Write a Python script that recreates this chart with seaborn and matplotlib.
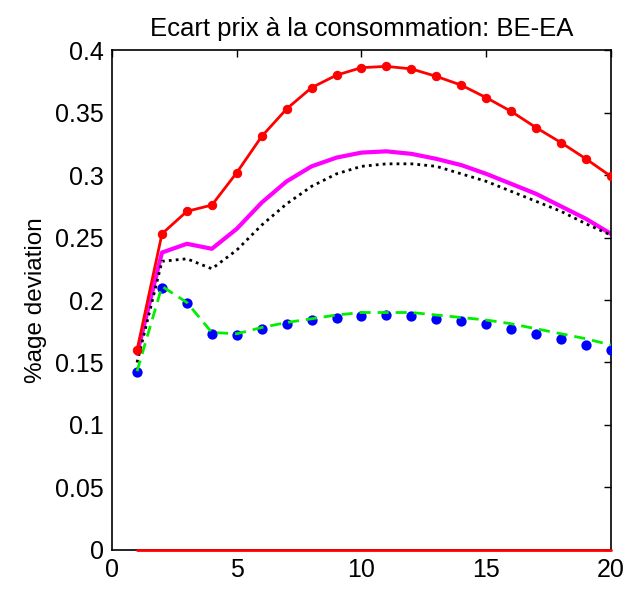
import numpy as np
import pandas as pd
import matplotlib
matplotlib.use("Agg")
import matplotlib.pyplot as plt
import seaborn as sns

sns.set_theme(style="white")
plt.rcParams['font.family'] = ['Liberation Sans', 'DejaVu Sans']

horizon = list(range(1, 21))

# red solid with dots
red_dots = [0.160, 0.253, 0.271, 0.276, 0.302, 0.331, 0.353, 0.370, 0.380, 0.386,
            0.387, 0.385, 0.379, 0.372, 0.362, 0.351, 0.338, 0.326, 0.313, 0.299]
# magenta thick solid
magenta = [0.157, 0.238, 0.245, 0.241, 0.257, 0.278, 0.295, 0.307, 0.314, 0.318,
           0.319, 0.317, 0.313, 0.308, 0.301, 0.293, 0.285, 0.275, 0.265, 0.253]
# black dotted
black_dot = [0.150, 0.231, 0.233, 0.225, 0.240, 0.260, 0.277, 0.291, 0.301, 0.307,
             0.309, 0.309, 0.307, 0.301, 0.295, 0.287, 0.279, 0.271, 0.261, 0.252]
# blue markers only
blue_dots = [0.142, 0.210, 0.198, 0.173, 0.172, 0.177, 0.181, 0.184, 0.186, 0.187,
             0.188, 0.187, 0.185, 0.183, 0.181, 0.177, 0.173, 0.169, 0.164, 0.160]
# green dashed
green_dash = [0.143, 0.211, 0.198, 0.174, 0.173, 0.178, 0.182, 0.185, 0.188, 0.190,
              0.190, 0.190, 0.188, 0.186, 0.184, 0.181, 0.177, 0.173, 0.169, 0.164]
zero_line = [0.0] * 20

df = pd.DataFrame({"h": horizon, "red": red_dots, "magenta": magenta,
                   "black": black_dot, "blue": blue_dots, "green": green_dash,
                   "zero": zero_line})

fig = plt.figure(figsize=(6.37, 5.90), dpi=100)
ax = fig.add_axes([0.176, 0.068, 0.783, 0.847])

sns.lineplot(data=df, x="h", y="magenta", color="magenta", lw=3, ax=ax)
sns.lineplot(data=df, x="h", y="black", color="black", lw=2, ax=ax,
             dashes=False, linestyle=(0, (1, 1.5)))
sns.scatterplot(data=df, x="h", y="blue", color="blue", s=55, edgecolor="blue",
                linewidth=0, ax=ax, zorder=3)
sns.lineplot(data=df, x="h", y="green", color="#00ee00", lw=2, ax=ax,
             linestyle=(0, (4, 2.5)), zorder=4)
sns.lineplot(data=df, x="h", y="red", color="red", lw=2, marker="o", markersize=6,
             markeredgecolor="red", ax=ax, zorder=5)
sns.lineplot(data=df, x="h", y="zero", color="red", lw=2, ax=ax, zorder=6)
ax.lines[-1].set_clip_on(False)

ax.set_xlim(0, 20)
ax.set_ylim(0, 0.4)
ax.set_xticks([0, 5, 10, 15, 20])
ax.set_yticks(np.arange(0, 0.401, 0.05))
ax.set_yticklabels(["0", "0.05", "0.1", "0.15", "0.2", "0.25", "0.3", "0.35", "0.4"])
ax.tick_params(direction="in", length=5, width=1, labelsize=18, colors="black",
               top=True, right=True, pad=6)
for s in ax.spines.values():
    s.set_color("black")
    s.set_linewidth(1.2)

ax.set_xlabel("")
ax.set_ylabel("%age deviation", fontsize=17.5, color="black", labelpad=6)
ax.set_title("Ecart prix à la consommation: BE-EA", fontsize=18.5, color="black", pad=10)

plt.savefig("out.png", dpi=100)
